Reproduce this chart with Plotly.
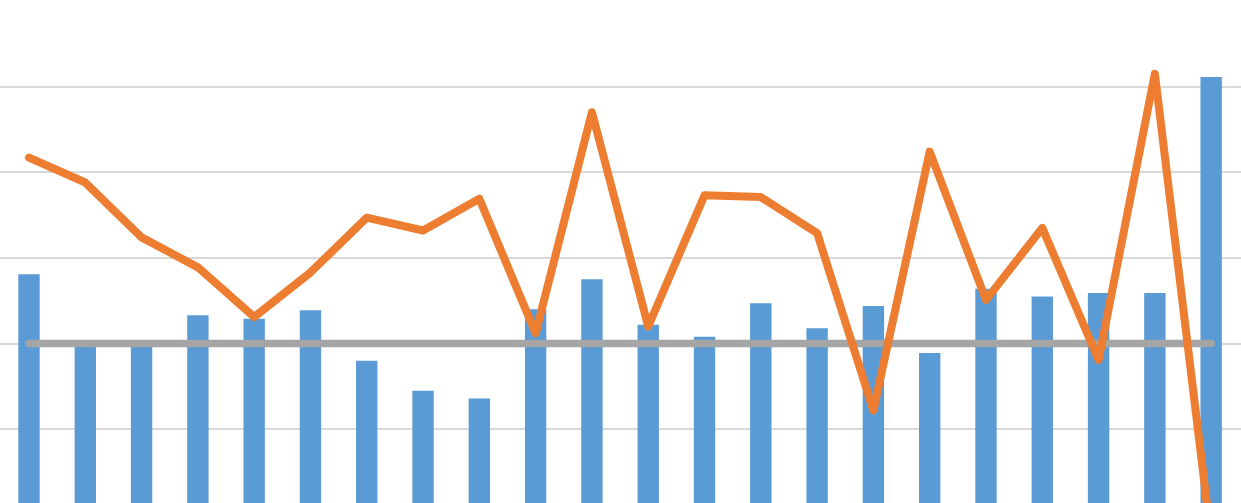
import plotly.graph_objects as go

categories = list(range(1, 23))
bar_values = [28.1, 19.8, 19.8, 23.3, 22.9, 23.9, 18.0, 14.5, 13.6, 24.0, 27.5,
              22.2, 20.8, 24.7, 21.8, 24.4, 18.9, 26.4, 25.5, 25.9, 25.9, 51.1]
line_values = [41.7, 38.8, 32.4, 28.9, 23.1, 28.3, 34.7, 33.2, 36.9, 21.2, 47.0,
               22.0, 37.3, 37.1, 32.9, 12.2, 42.4, 25.1, 33.5, 18.1, 51.5, -2.8]
ref_values = [20.0] * 22

fig = go.Figure()
fig.add_trace(go.Bar(x=categories, y=bar_values, marker=dict(color="#5B9BD5", line=dict(width=0)),
                     showlegend=False))
fig.add_trace(go.Scatter(x=categories, y=ref_values, mode="lines",
                         line=dict(color="#A5A5A5", width=7.5), showlegend=False))
fig.add_trace(go.Scatter(x=categories, y=line_values, mode="lines",
                         line=dict(color="#ED7D31", width=8), showlegend=False))

fig.update_layout(
    width=1241, height=503,
    margin=dict(l=0, r=0, t=0, b=0),
    paper_bgcolor="white", plot_bgcolor="white",
    bargap=0.62,
    xaxis=dict(range=[0.485, 22.53], showticklabels=False, showgrid=False, zeroline=False,
               ticks=""),
    yaxis=dict(range=[1.4, 60.1], tickvals=[10, 20, 30, 40, 50, 60], showticklabels=False,
               showgrid=True, gridcolor="#D9D9D9", gridwidth=1.6, zeroline=False, ticks=""),
)

post = """
document.body.style.margin = '0';
document.body.style.overflow = 'hidden';
document.querySelectorAll('.scatterlayer path.js-line').forEach(function(p){
  p.style.strokeLinejoin = 'round';
  p.style.strokeLinecap = 'round';
});
"""
fig.write_html("out.html", post_script=post, config={"displayModeBar": False})
